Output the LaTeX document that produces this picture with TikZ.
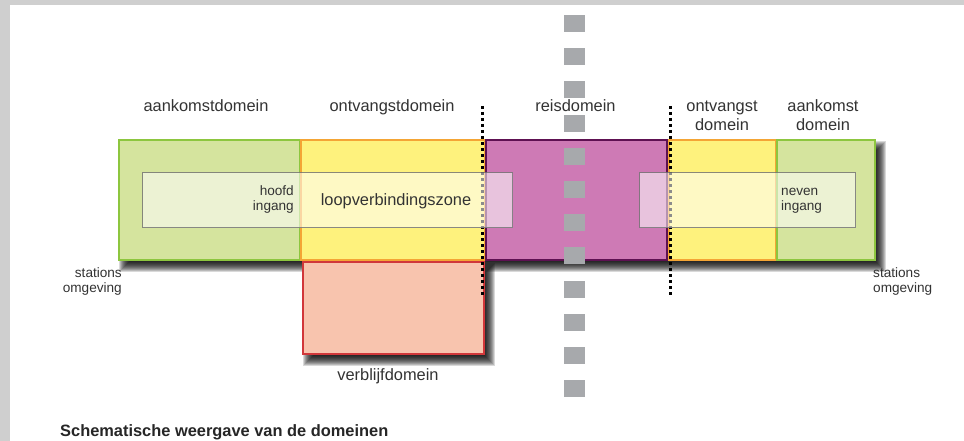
\documentclass[tikz,border=0pt]{standalone}
\usepackage{fontspec}
\setmainfont{Liberation Sans}

\definecolor{greenfill}{HTML}{D5E49E}
\definecolor{greenline}{HTML}{8DC63F}
\definecolor{yellowfill}{HTML}{FEF27D}
\definecolor{yellowline}{HTML}{F4A535}
\definecolor{purplefill}{HTML}{CE7AB5}
\definecolor{purpleline}{HTML}{5E1152}
\definecolor{stayfill}{HTML}{F8C4AE}
\definecolor{stayline}{HTML}{D1373A}
\definecolor{innerline}{HTML}{767676}
\definecolor{railgray}{HTML}{A7A9AC}
\definecolor{labeltext}{HTML}{333333}
\definecolor{edgegray}{HTML}{CFCFCF}

% soft drop shadow under a rectangle (x1,y1)-(x2,y2), built from stacked translucent layers
\newcommand\zoneshadow[4]{%
  \foreach \k in {0,...,12}
    \fill[black, fill opacity=0.15]
      (#1+1+\k, #2+2+\k) rectangle (#3+12-\k, #4+13-\k);
}

\tikzset{
  zone/.style={draw, line width=2pt, inner sep=0pt, anchor=north west},
  walkzone/.style={draw=innerline, draw opacity=0.85, line width=1.3pt,
    fill=white, fill opacity=0.55, inner sep=0pt, anchor=north west},
  railblock/.style={fill=railgray, inner sep=0pt,
    minimum width=21pt, minimum height=17pt},
  borderline/.style={line width=3pt, dash pattern=on 3pt off 3pt, black},
  biglabel/.style={font=\fontsize{16.4}{19}\selectfont, text=labeltext, inner sep=0pt},
  smalllabel/.style={font=\fontsize{13.6}{15}\selectfont, text=labeltext, inner sep=0pt},
}

\begin{document}
\begin{tikzpicture}[x=1pt, y=-1pt]
\useasboundingbox (0,0) rectangle (964,441);
\fill[white] (0,0) rectangle (964,441);
\fill[edgegray] (0,0) rectangle (964,5);
\fill[edgegray] (0,0) rectangle (10,441);

% shadows of the domain row and of the stay block
\zoneshadow{118}{139}{874}{259}
\zoneshadow{302}{261}{483}{353}

% domain blocks
\node[zone, fill=greenfill, draw=greenline, minimum width=181pt, minimum height=120pt] (arrL) at (118,139) {};
\node[zone, fill=yellowfill, draw=yellowline, minimum width=184pt, minimum height=120pt] (recL) at (300,139) {};
\node[zone, fill=purplefill, draw=purpleline, minimum width=181pt, minimum height=120pt] (travel) at (485,139) {};
\node[zone, fill=yellowfill, draw=yellowline, minimum width=107pt, minimum height=120pt] (recR) at (668,139) {};
\node[zone, fill=greenfill, draw=greenline, minimum width=98pt, minimum height=120pt] (arrR) at (776,139) {};
\node[zone, fill=stayfill, draw=stayline, minimum width=181pt, minimum height=92pt] (stay) at (302,261) {};

% track axis
\foreach \i in {0,...,11}
  \node[railblock] (rail\i) at (574, 23.5+33.2*\i) {};

% domain borders
\coordinate (bLt) at (482,106);
\coordinate (bLb) at (482,297);
\coordinate (bRt) at (670,106);
\coordinate (bRb) at (670,297);
\draw[borderline] (bLt) -- (bLb);
\draw[borderline] (bRt) -- (bRb);

% walking connection zones
\node[walkzone, minimum width=370pt, minimum height=55pt] (walkL) at (142,172) {};
\node[walkzone, minimum width=216pt, minimum height=55pt] (walkR) at (639,172) {};

% labels
\node[biglabel, anchor=base] (tArrL) at (206,112) {aankomstdomein};
\node[biglabel, anchor=base] (tRecL) at (392,112) {ontvangstdomein};
\node[biglabel, anchor=base] (tTravel) at (575.5,112) {reisdomein};
\node[biglabel, anchor=base] (tRecR) at (722,112)
  {\begin{tabular}[t]{@{}c@{}}ontvangst\\domein\end{tabular}};
\node[biglabel, anchor=base] (tArrR) at (823,112)
  {\begin{tabular}[t]{@{}c@{}}aankomst\\domein\end{tabular}};
\node[biglabel, anchor=base] (tWalk) at (396,205) {loopverbindingszone};
\node[smalllabel, anchor=base east] (tMain) at (294,196)
  {\begin{tabular}[t]{@{}r@{}}hoofd\\ingang\end{tabular}};
\node[smalllabel, anchor=base west] (tSide) at (781,196)
  {\begin{tabular}[t]{@{}l@{}}neven\\ingang\end{tabular}};
\node[smalllabel, anchor=base east] (tEnvL) at (122,277)
  {\begin{tabular}[t]{@{}r@{}}stations\\omgeving\end{tabular}};
\node[smalllabel, anchor=base west] (tEnvR) at (873,277)
  {\begin{tabular}[t]{@{}l@{}}stations\\omgeving\end{tabular}};
\node[biglabel, anchor=base] (tStay) at (388,380) {verblijfdomein};
\node[font=\fontsize{16.4}{19}\selectfont\bfseries, text=black!85, inner sep=0pt, anchor=base west]
  (title) at (60,436) {Schematische weergave van de domeinen};
\end{tikzpicture}
\end{document}
